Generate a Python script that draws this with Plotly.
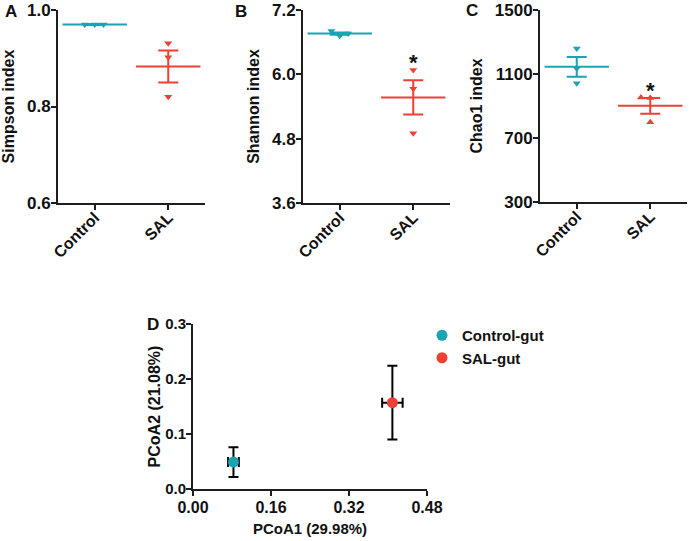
import plotly.graph_objects as go

# ---------------- data ----------------
groups = ["Control", "SAL"]

simpson_control = [0.970, 0.970, 0.970]
simpson_sal = [0.931, 0.902, 0.820]
simpson_mean = [0.970, 0.883]
simpson_sem = [0.001, 0.033]

shannon_control = [6.81, 6.72, 6.76]
shannon_sal = [6.08, 5.73, 4.90]
shannon_mean = [6.76, 5.57]
shannon_sem = [0.02, 0.32]

chao1_control = [1259, 1135, 1042]
chao1_sal = [953, 950, 799]
chao1_mean = [1145, 901]
chao1_sem = [62, 49]

pcoa_groups = ["Control-gut", "SAL-gut"]
pcoa1_mean = [0.083, 0.409]
pcoa1_sem = [0.011, 0.021]
pcoa2_mean = [0.049, 0.157]
pcoa2_sem = [0.027, 0.067]

simpson_ticks = [0.6, 0.8, 1.0]
shannon_ticks = [3.6, 4.8, 6.0, 7.2]
chao1_ticks = [300, 700, 1100, 1500]
pcoa1_ticks = [0.00, 0.16, 0.32, 0.48]
pcoa2_ticks = [0.0, 0.1, 0.2, 0.3]

# ---------------- style ----------------
W, H = 689, 541
TEAL = "#1ba3b2"
RED = "#ee4035"
AXC = "#1e1e1e"
FONT = "Liberation Sans, Arial, sans-serif"

def px_x(p):
    return p / W

def px_y(p):
    return 1 - p / H

fig = go.Figure()

panels = [
    dict(ax="", ctrl=simpson_control, sal=simpson_sal, mean=simpson_mean, sem=simpson_sem,
         jc=[-0.136, 0.0, 0.12], js=[0, 0, 0], sym_c="triangle-down", sym_s="triangle-down"),
    dict(ax="2", ctrl=shannon_control, sal=shannon_sal, mean=shannon_mean, sem=shannon_sem,
         jc=[-0.113, 0.0, 0.113], js=[0, 0, 0], sym_c="triangle-down", sym_s="triangle-down"),
    dict(ax="3", ctrl=chao1_control, sal=chao1_sal, mean=chao1_mean, sem=chao1_sem,
         jc=[0, 0, 0], js=[-0.127, 0.0, 0.0], sym_c="triangle-down", sym_s="triangle-up"),
]

for p in panels:
    xa, ya = "x" + p["ax"], "y" + p["ax"]
    for gi, (vals, jit, sym, col) in enumerate([
        (p["ctrl"], p["jc"], p["sym_c"], TEAL),
        (p["sal"], p["js"], p["sym_s"], RED),
    ]):
        # individual points
        fig.add_trace(go.Scatter(
            x=[gi + j for j in jit], y=vals, mode="markers", xaxis=xa, yaxis=ya,
            marker=dict(symbol=sym, size=7, color=col), showlegend=False, hoverinfo="skip"))
        # mean line with SEM error bars
        fig.add_trace(go.Scatter(
            x=[gi], y=[p["mean"][gi]], mode="markers", xaxis=xa, yaxis=ya,
            marker=dict(symbol="line-ew", size=46, color=col, line=dict(width=2, color=col)),
            error_y=dict(type="data", array=[p["sem"][gi]], color=col, thickness=2, width=10),
            showlegend=False, hoverinfo="skip"))

# PCoA
for gi, (name, col) in enumerate(zip(pcoa_groups, [TEAL, RED])):
    fig.add_trace(go.Scatter(
        x=[pcoa1_mean[gi]], y=[pcoa2_mean[gi]], mode="markers", name=name,
        xaxis="x4", yaxis="y4",
        marker=dict(symbol="circle", size=11, color=col),
        error_x=dict(type="data", array=[pcoa1_sem[gi]], color="black", thickness=2, width=5),
        error_y=dict(type="data", array=[pcoa2_sem[gi]], color="black", thickness=2, width=5),
    ))

def f(size):
    return dict(family=FONT, size=size, color="#111", weight="bold")

common = dict(showgrid=False, zeroline=False, showline=True, linecolor=AXC, linewidth=2,
              ticks="outside", ticklen=5, tickwidth=2, tickcolor=AXC, automargin=False,
              ticklabeloverflow="allow")

top_y = [(10, 203), (10, 203), (10, 202)]
top_x = [(58, 205), (303, 450), (540, 687)]
yticks = [simpson_ticks, shannon_ticks, chao1_ticks]
yfmt = ["{:.1f}", "{:.1f}", "{:d}"]
ytitles = ["Simpson index", "Shannon index", "Chao1 index"]

layout = dict(
    width=W, height=H, margin=dict(l=0, r=0, t=0, b=0, autoexpand=False),
    paper_bgcolor="white", plot_bgcolor="white",
    showlegend=True,
    legend=dict(x=px_x(422), y=px_y(319), xanchor="left", yanchor="top",
                font=f(15), bgcolor="rgba(0,0,0,0)", tracegroupgap=0, itemwidth=30),
)

for i in range(3):
    sfx = "" if i == 0 else str(i + 1)
    x0, x1 = top_x[i]
    y0, y1 = top_y[i]
    tv = yticks[i]
    layout["xaxis" + sfx] = dict(
        common, domain=[px_x(x0), px_x(x1)], range=[-0.5, 1.5],
        tickvals=[0, 1], ticktext=groups, tickangle=-45, tickfont=f(16),
        ticklabelstandoff=-8, anchor="y" + sfx)
    layout["yaxis" + sfx] = dict(
        common, domain=[px_y(y1), px_y(y0)], range=[tv[0], tv[-1]],
        tickvals=tv, ticktext=[yfmt[i].format(v) for v in tv], tickfont=f(17),
        ticklabelstandoff=-3,
        title=dict(text=ytitles[i], font=f(16), standoff=8),
        anchor="x" + sfx)

layout["xaxis4"] = dict(
    common, domain=[px_x(193), px_x(427)], range=[pcoa1_ticks[0], pcoa1_ticks[-1]],
    tickvals=pcoa1_ticks, ticktext=["{:.2f}".format(v) for v in pcoa1_ticks], tickfont=f(16),
    ticklabelstandoff=-2,
    title=dict(text="PCoA1 (29.98%)", font=f(15), standoff=8), anchor="y4")
layout["yaxis4"] = dict(
    common, domain=[px_y(489), px_y(324)], range=[pcoa2_ticks[0], pcoa2_ticks[-1]],
    tickvals=pcoa2_ticks, ticktext=["{:.1f}".format(v) for v in pcoa2_ticks], tickfont=f(15),
    ticklabelstandoff=-3,
    title=dict(text="PCoA2 (21.08%)", font=f(16), standoff=1), anchor="x4")

fig.update_layout(**layout)

# asterisks
for xa, ya, yv in [("x2", "y2", 6.23), ("x3", "y3", 1000)]:
    fig.add_annotation(x=1, y=yv, xref=xa, yref=ya, text="*", showarrow=False,
                       font=f(22), yanchor="middle")

# panel letters
for lab, px, py in [("A", 11, 12), ("B", 241, 12), ("C", 472, 10), ("D", 153, 324)]:
    fig.add_annotation(x=px_x(px), y=px_y(py), xref="paper", yref="paper", text=lab,
                       showarrow=False, xanchor="center", yanchor="middle", font=f(17))

fig.write_html("out.html", config={"displayModeBar": False},
               post_script="document.body.style.margin='0';document.body.style.padding='0';")
